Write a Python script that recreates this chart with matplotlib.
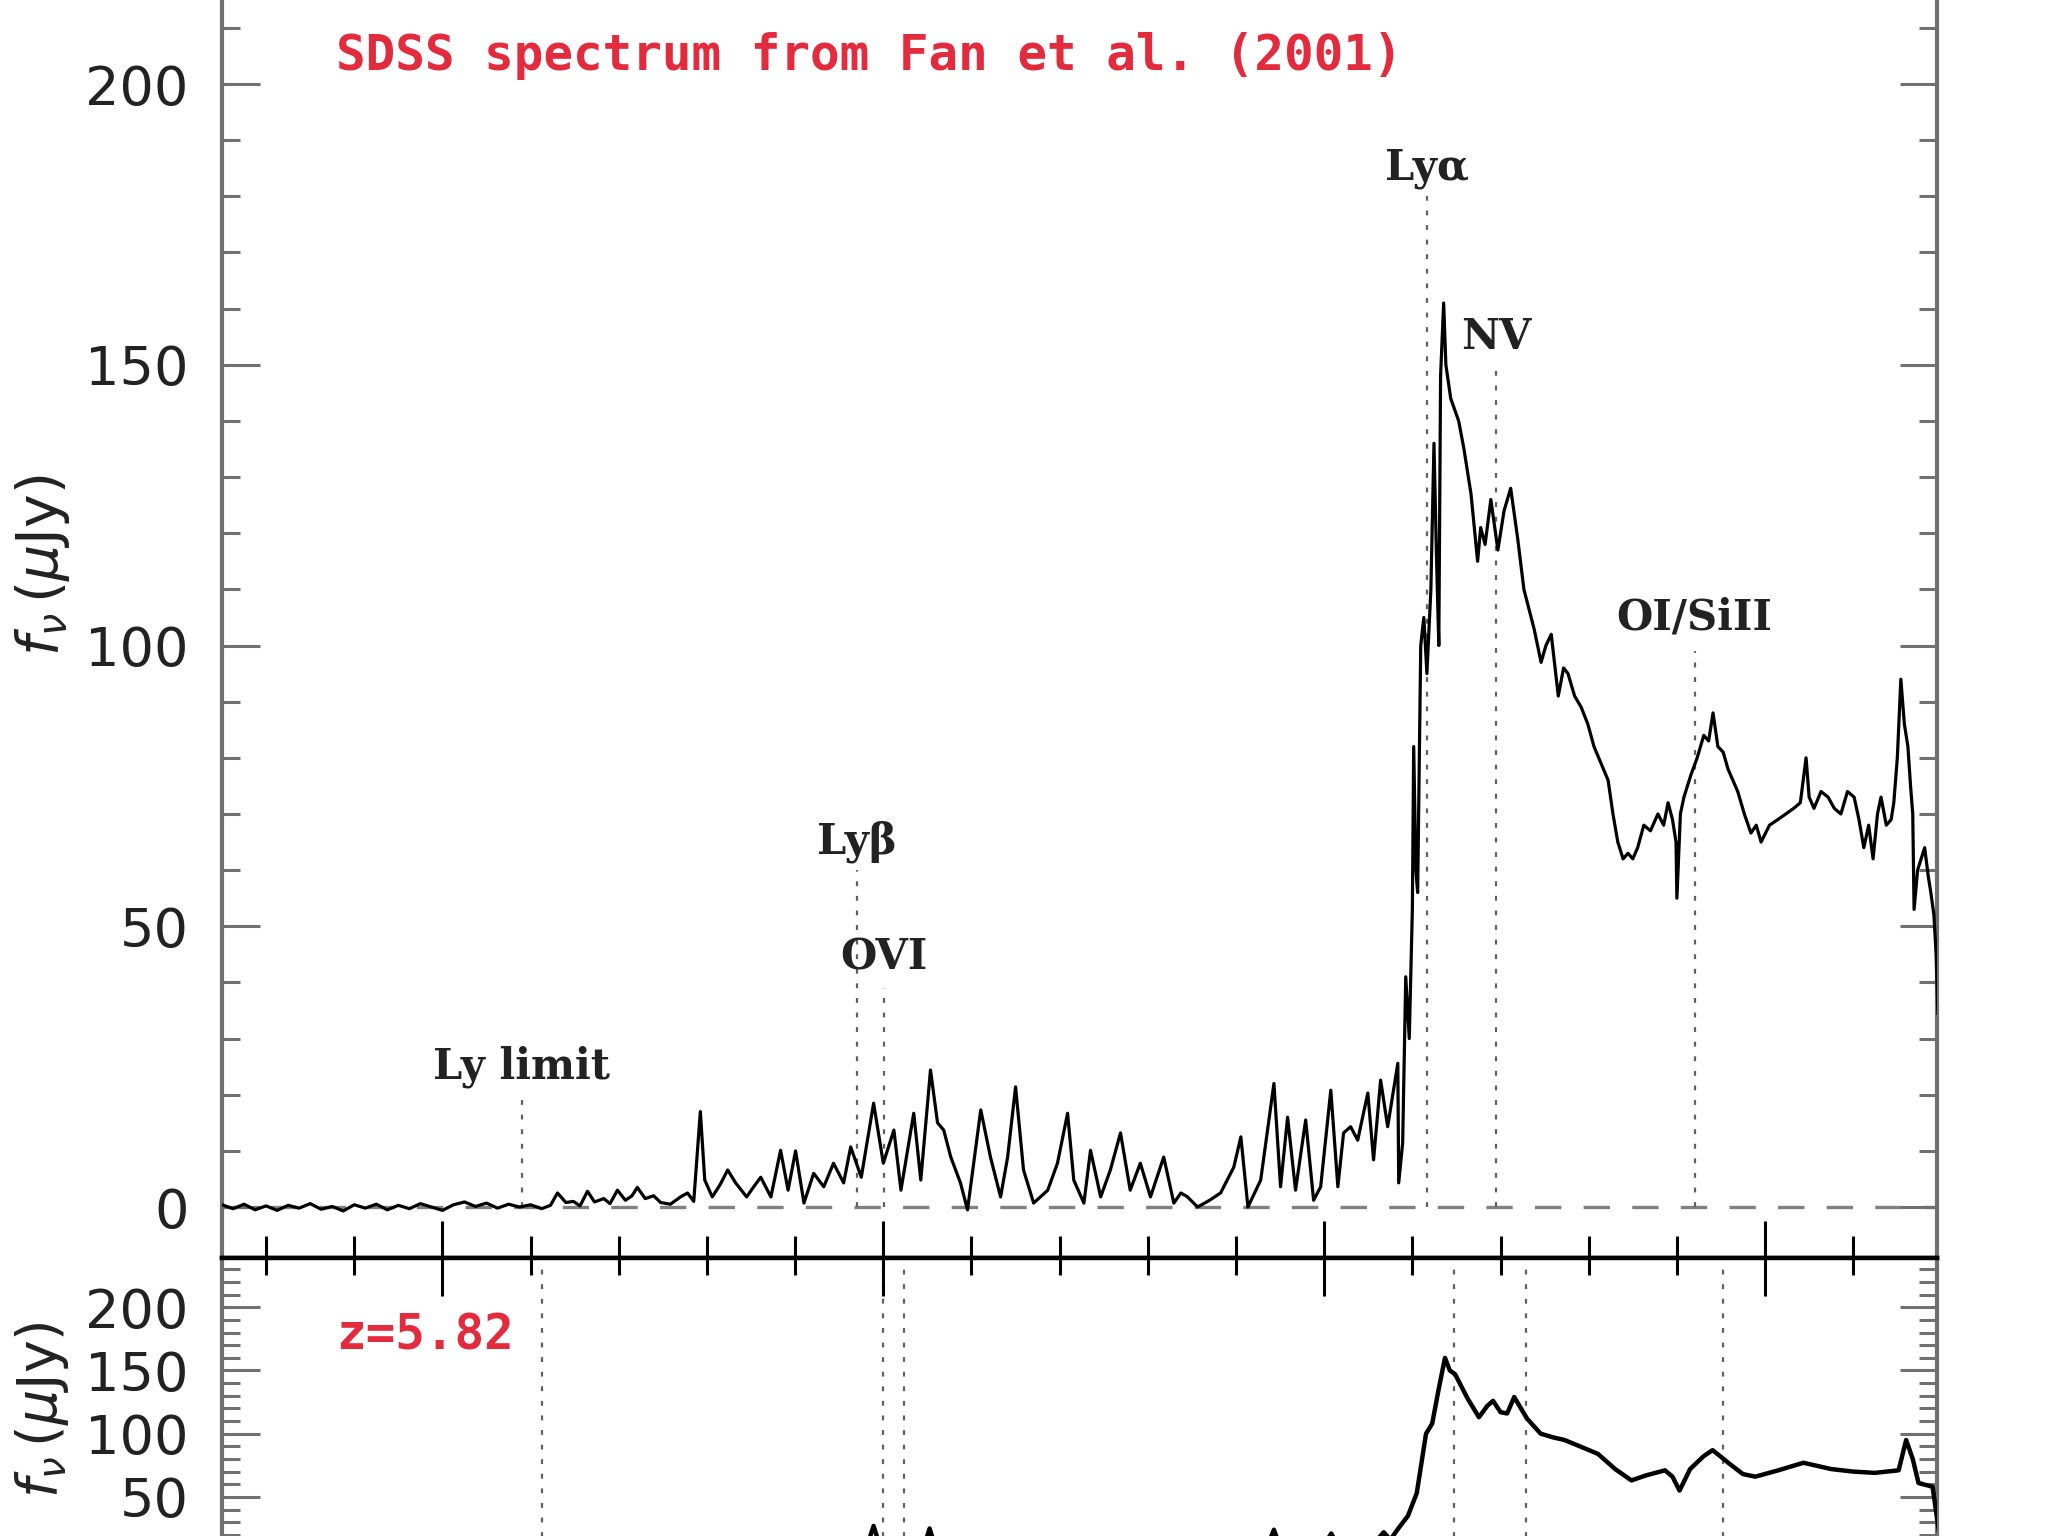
import matplotlib
matplotlib.use('Agg')
import matplotlib.pyplot as plt
from matplotlib.ticker import MultipleLocator

plt.rcParams['lines.scale_dashes'] = False
plt.rcParams['mathtext.fontset'] = 'dejavusans'

# ---------------- data (observed wavelength in Angstrom, flux in microJy) ----------------
top_wl = [5500, 5525, 5550, 5575, 5600, 5625, 5650, 5675, 5700, 5725, 5750, 5775, 5800, 5825,
          5850, 5875, 5900, 5925, 5950, 5975, 6000, 6025, 6050, 6075, 6100, 6125, 6150, 6175,
          6200, 6225, 6245, 6261, 6280, 6297, 6312, 6329, 6345, 6366, 6380, 6397, 6415, 6430,
          6442, 6460, 6479, 6495, 6517, 6540, 6556, 6570, 6585, 6595, 6612, 6630, 6647, 6665,
          6690, 6705, 6722, 6745, 6767, 6784, 6801, 6820, 6842, 6865, 6887, 6910, 6926, 6950,
          6978, 7000, 7024, 7040, 7069, 7085, 7107, 7123, 7137, 7153, 7175, 7191, 7221, 7243,
          7266, 7282, 7300, 7318, 7341, 7373, 7395, 7418, 7432, 7455, 7470, 7493, 7515, 7538,
          7560, 7583, 7606, 7636, 7659, 7675, 7690, 7700, 7713, 7740, 7765, 7795, 7811, 7827,
          7856, 7886, 7901, 7917, 7935, 7958, 7976, 7992, 8015, 8031, 8044, 8060, 8076, 8099,
          8112, 8128, 8144, 8167, 8169, 8178, 8185, 8193, 8200, 8203, 8208, 8212, 8219, 8226,
          8233, 8242, 8249, 8255, 8260, 8264, 8271, 8276, 8287, 8305, 8317, 8333, 8348, 8355,
          8365, 8378, 8394, 8408, 8423, 8439, 8453, 8466, 8476, 8492, 8503, 8515, 8531, 8543,
          8553, 8568, 8583, 8598, 8612, 8628, 8644, 8655, 8666, 8678, 8689, 8700, 8711, 8725,
          8740, 8757, 8770, 8780, 8790, 8798, 8800, 8808, 8816, 8832, 8846, 8861, 8872, 8882,
          8893, 8905, 8916, 8927, 8938, 8953, 8968, 8980, 8991, 9010, 9029, 9047, 9065, 9080,
          9093, 9100, 9111, 9127, 9143, 9157, 9172, 9187, 9202, 9213, 9224, 9235, 9245, 9255,
          9263, 9275, 9286, 9292, 9300, 9308, 9316, 9324, 9330, 9335, 9338, 9346, 9354, 9362,
          9370, 9376, 9383, 9388, 9392]
top_flux = [0.4, -0.3, 0.5, -0.5, 0.2, -0.6, 0.3, -0.2, 0.6, -0.4, 0.1, -0.7, 0.4, -0.2,
            0.5, -0.5, 0.3, -0.3, 0.6, 0.0, -0.6, 0.4, 0.9, 0.1, 0.7, -0.2, 0.5, 0.0,
            0.4, -0.3, 0.3, 2.5, 0.8, 1.0, 0.2, 2.8, 0.9, 1.5, 0.6, 3.0, 1.2, 2.0,
            3.5, 1.5, 2.0, 0.8, 0.5, 1.8, 2.5, 1.0, 17.0, 4.8, 1.8, 4.0, 6.6, 4.3,
            1.8, 3.5, 5.3, 1.8, 10.1, 3.0, 10.0, 0.7, 6.0, 3.6, 7.8, 4.3, 10.7, 5.3,
            18.5, 7.8, 13.7, 3.0, 16.7, 4.8, 24.4, 15.0, 13.7, 8.9, 4.3, -0.5, 17.3, 8.9,
            1.8, 8.9, 21.4, 6.6, 0.7, 3.0, 7.8, 16.7, 4.8, 0.7, 10.1, 1.8, 6.6, 13.2,
            3.0, 7.8, 1.8, 8.9, 0.7, 2.5, 1.8, 1.0, 0.0, 1.2, 2.5, 7.1, 12.5, 0.0,
            4.8, 22.0, 3.6, 16.0, 3.0, 15.5, 1.2, 3.6, 20.8, 3.6, 13.2, 14.3, 11.9, 20.3,
            8.4, 22.6, 14.3, 25.6, 4.3, 11.4, 41, 30, 53, 82, 60, 56, 100, 105,
            95, 110, 136, 115, 100, 148, 161, 150, 144, 140, 135, 127, 115, 121,
            118, 126, 117, 124, 128, 119, 110, 106, 103, 97, 100, 102, 91, 96,
            95, 91, 89, 86, 82, 79, 76, 70, 65, 62, 63, 62, 64, 68,
            67, 70, 68, 72, 69, 65, 55, 70, 73, 77, 80, 84, 83, 88,
            82, 81, 78, 76, 74, 70, 66.6, 68, 65, 68, 69, 70, 71, 72,
            80, 73, 71, 74, 73, 71, 70, 74, 73, 69, 64, 68, 62, 70,
            73, 68, 69, 72, 80, 94, 86, 82, 75, 70, 53, 60, 62, 64,
            59, 56, 52, 45, 34.5]

bot_wl = [5500, 6000, 6200, 6600, 6960, 6978, 6995, 7090, 7105, 7120, 7150, 7300, 7500,
          7800, 7870, 7886, 7900, 7950, 8000, 8016, 8030, 8080, 8120, 8135, 8150, 8166,
          8190, 8210, 8231, 8245, 8259, 8274, 8285, 8297, 8325,
          8351, 8370, 8383, 8400, 8415, 8431, 8460, 8491, 8520, 8545, 8580, 8621, 8660,
          8697, 8730, 8773, 8790, 8806, 8830, 8860, 8881, 8920, 8950, 8978, 9030, 9087,
          9150, 9200, 9249, 9303, 9320, 9335, 9348, 9380, 9395]
bot_flux = [0, 0.5, 0.3, 3, 8, 27, 8, 8, 25, 8, 8, 12, 5,
            6, 10, 24, 10, 10, 12, 21, 12, 12, 16, 22, 16, 24,
            35, 53, 100, 108, 134, 160, 150, 147, 128,
            113, 122, 126, 117, 116, 129, 112, 100, 97, 95, 90, 84, 72,
            63, 67, 71, 66, 55, 72, 82, 87, 76, 68, 66, 71, 77,
            72, 70, 69, 71, 95, 80, 61, 58, 21]

top_line_wl = [6180, 6941, 7002, 8233, 8390, 8840]
top_line_names = ['Ly limit', 'Lyβ', 'OVI', 'Lyα', 'NV', 'OI/SiII']
top_line_label_y = [25, 65, 44.5, 185, 155, 105]
top_line_top = [19.5, 60, 39, 180, 150, 99]
bot_line_wl = [6225, 7000, 7047, 8295, 8458, 8905]

y_major = [0, 50, 100, 150, 200]
bot_labels = ['', '50', '100', '150', '200']
title_text = 'SDSS spectrum from Fan et al. (2001)'
z_text = 'z=5.82'
ylabel_text = r'$f_{\nu}\,(\mu{\rm Jy})$'

# ---------------- figure ----------------
W, H = 2048, 1536
fig = plt.figure(figsize=(W / 100, H / 100), dpi=100)
ax1 = fig.add_axes([222 / W, 278 / H, 1715 / W, 1398.6 / H])
ax2 = fig.add_axes([222 / W, -36.7 / H, 1715 / W, 314.7 / H])

spine_gray = '#707070'
txt_col = '#222222'
red = '#e32b3e'

for ax in (ax1, ax2):
    ax.set_xlim(5500, 9390)
    ax.xaxis.set_major_locator(MultipleLocator(1000))
    ax.xaxis.set_minor_locator(MultipleLocator(200))
    ax.set_yticks(y_major)
    ax.yaxis.set_minor_locator(MultipleLocator(10))
    for s in ('left', 'right'):
        ax.spines[s].set_color(spine_gray)
        ax.spines[s].set_linewidth(3)
    ax.tick_params(axis='y', which='both', direction='in', left=True, right=True,
                   color=spine_gray, width=2.2, labelsize=39, labelcolor=txt_col, pad=24)
    ax.tick_params(axis='y', which='major', length=27)
    ax.tick_params(axis='y', which='minor', length=13)

ax2.set_yticklabels(bot_labels)

ax1.set_ylim(-9.08, 240)
ax2.set_ylim(-10, 239)

ax1.spines['top'].set_visible(False)
ax1.spines['bottom'].set_color('black')
ax1.spines['bottom'].set_linewidth(3.2)
ax2.spines['top'].set_color('black')
ax2.spines['top'].set_linewidth(3.2)
ax2.spines['bottom'].set_visible(False)

ax1.tick_params(axis='x', which='both', direction='in', bottom=True, top=False,
                labelbottom=False, color='black', width=2.2)
ax1.tick_params(axis='x', which='major', length=27)
ax1.tick_params(axis='x', which='minor', length=16)
ax2.tick_params(axis='x', which='both', direction='in', bottom=False, top=True,
                labelbottom=False, labeltop=False, color='black', width=2.2)
ax2.tick_params(axis='x', which='major', length=27)
ax2.tick_params(axis='x', which='minor', length=12)

# zero level
ax1.axhline(0, color='#808080', lw=2.4, dashes=(19, 16), zorder=1)

# line markers
ax1.vlines(top_line_wl, 0, top_line_top, colors='#606060', lw=1.6,
           linestyles=[(0, (3.5, 7))], zorder=1)
for wl, name, ly in zip(top_line_wl, top_line_names, top_line_label_y):
    ax1.text(wl, ly, name, ha='center', va='center', fontsize=30,
             family='DejaVu Serif', weight='bold', color=txt_col)
for wl in bot_line_wl:
    ax2.axvline(wl, color='#606060', lw=1.6, linestyle=(0, (3.5, 7)), zorder=1)

# spectra
ax1.plot(top_wl, top_flux, color='black', lw=2.3, zorder=3)
ax2.plot(bot_wl, bot_flux, color='black', lw=3.2, zorder=3)

# texts
ax1.text(5759, 205, title_text, ha='left', va='center', fontsize=35.5,
         family='DejaVu Sans Mono', weight='bold', color=red)
ax2.text(5759, 177.6, z_text, ha='left', va='center', fontsize=35.5,
         family='DejaVu Sans Mono', weight='bold', color=red)

fig.text(42 / W, 1 - 565 / H, ylabel_text, rotation=90, ha='center', va='center',
         fontsize=41, color=txt_col)
fig.text(42 / W, 1 - 1410 / H, ylabel_text, rotation=90, ha='center', va='center',
         fontsize=40, color=txt_col)

fig.savefig('out.png', dpi=100)
